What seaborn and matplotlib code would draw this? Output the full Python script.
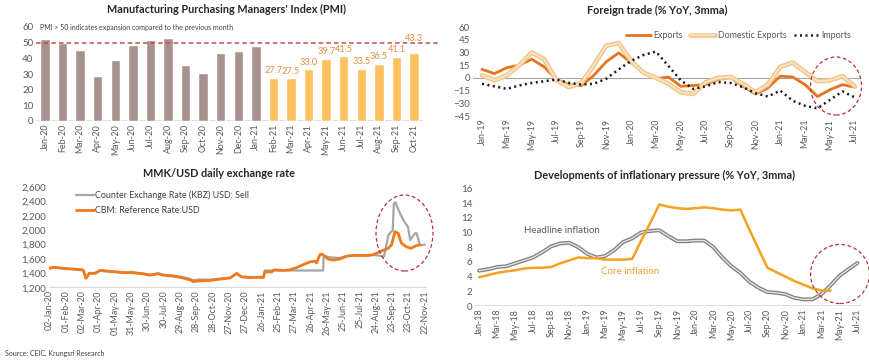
import matplotlib
matplotlib.use("Agg")
import matplotlib.pyplot as plt
import matplotlib.patheffects as pe
from matplotlib.patches import Ellipse
import numpy as np
import pandas as pd
import seaborn as sns

sns.set_theme(style="white")
plt.rcParams["font.family"] = ["Lato", "DejaVu Sans"]

# ---------------- data ----------------
# PMI (monthly)
pmi_months = ["Jan-20", "Feb-20", "Mar-20", "Apr-20", "May-20", "Jun-20", "Jul-20", "Aug-20",
              "Sep-20", "Oct-20", "Nov-20", "Dec-20", "Jan-21", "Feb-21", "Mar-21", "Apr-21",
              "May-21", "Jun-21", "Jul-21", "Aug-21", "Sep-21", "Oct-21"]
pmi_values = [52.6, 49.8, 45.1, 28.7, 38.7, 48.3, 51.5, 53.0, 35.7, 30.6, 43.2, 44.7, 47.7,
              27.7, 27.5, 33.0, 39.7, 41.5, 33.5, 36.5, 41.1, 43.3]
pmi_period = ["pre"] * 13 + ["post"] * 9

# Foreign trade (% YoY, 3mma), Jan-19 .. Jul-21
trade_months = pd.date_range("2019-01-01", periods=31, freq="MS").strftime("%b-%y")
exports = [10, 5, 12, 15, 22, 13, -2, -8, -9, 3, 19, 29.5, 18, 7, -1, 1, -10, -9, -8, -2,
           0.5, -10, -19, -12, 2, 1, -8, -22, -14, -8, -11]
domestic_exports = [3, -3, 3, 15, 30, 22, -3, -11, -6, 15, 38, 41, 20, 6, 0, -7, -17, -19, -5,
                    0, 1, -7, -17, -8, 13, 18, 7, -4, -3, 2, -10]
imports = [-7, -10, -13, -9, -6, -4, -2, -6, -8, -7, -1, 10, 20, 27, 31, 14, -3, -13, -10, -5,
           -6, -11, -18, -22, -15, -27, -33, -36, -26, -16, -23]

# MMK/USD daily exchange rate
cbm_dates = ["2020-01-02", "2020-01-09", "2020-01-19", "2020-02-03", "2020-02-21", "2020-03-04",
             "2020-03-09", "2020-03-15", "2020-03-26", "2020-04-04", "2020-04-16", "2020-05-02",
             "2020-05-17", "2020-06-01", "2020-06-20", "2020-07-05", "2020-07-20", "2020-07-29",
             "2020-08-17", "2020-09-01", "2020-09-16", "2020-09-22", "2020-10-05", "2020-10-23",
             "2020-11-10", "2020-11-29", "2020-12-11", "2020-12-20", "2021-01-04", "2021-01-23",
             "2021-01-29", "2021-02-01", "2021-02-13", "2021-02-19", "2021-03-07", "2021-03-19",
             "2021-03-31", "2021-04-12", "2021-04-25", "2021-05-04", "2021-05-07", "2021-05-13",
             "2021-05-16", "2021-05-22", "2021-05-28", "2021-06-06", "2021-06-19", "2021-07-01",
             "2021-07-13", "2021-07-26", "2021-08-07", "2021-08-19", "2021-08-31", "2021-09-09",
             "2021-09-16", "2021-09-22", "2021-09-28", "2021-10-04", "2021-10-10", "2021-10-19",
             "2021-10-28", "2021-11-04", "2021-11-13"]
cbm_rate = [1470, 1485, 1475, 1465, 1455, 1445, 1330, 1400, 1400, 1440, 1430, 1420, 1410, 1410,
            1395, 1375, 1395, 1375, 1360, 1340, 1310, 1285, 1295, 1300, 1320, 1335, 1400, 1350,
            1340, 1345, 1340, 1420, 1420, 1450, 1440, 1450, 1480, 1520, 1560, 1570, 1545, 1660,
            1670, 1640, 1600, 1585, 1600, 1640, 1650, 1650, 1650, 1660, 1700, 1730, 1750, 1800,
            1980, 1960, 1820, 1770, 1750, 1780, 1800]

kbz_dates = ["2020-01-02", "2020-01-09", "2020-01-19", "2020-02-03", "2020-02-21", "2020-03-04",
             "2020-03-09", "2020-03-15", "2020-03-26", "2020-04-04", "2020-04-16", "2020-05-02",
             "2020-05-17", "2020-06-01", "2020-06-20", "2020-07-05", "2020-07-20", "2020-07-29",
             "2020-08-17", "2020-09-01", "2020-09-16", "2020-09-22", "2020-10-05", "2020-10-23",
             "2020-11-10", "2020-11-29", "2020-12-11", "2020-12-20", "2021-01-04", "2021-01-23",
             "2021-01-29", "2021-02-01", "2021-05-19", "2021-05-20", "2021-05-28", "2021-06-06",
             "2021-06-19", "2021-07-01", "2021-07-13", "2021-07-26", "2021-08-07", "2021-08-19",
             "2021-08-28", "2021-09-08", "2021-09-16", "2021-09-21", "2021-09-24", "2021-09-26",
             "2021-09-29", "2021-10-02", "2021-10-05", "2021-10-09", "2021-10-14", "2021-10-17",
             "2021-10-22", "2021-10-26", "2021-11-04", "2021-11-07", "2021-11-13", "2021-11-22"]
kbz_rate = [1475, 1488, 1478, 1468, 1458, 1448, 1335, 1405, 1405, 1445, 1435, 1425, 1415, 1415,
            1400, 1380, 1398, 1380, 1368, 1350, 1325, 1305, 1315, 1312, 1325, 1340, 1395, 1355,
            1350, 1350, 1350, 1440, 1440, 1645, 1630, 1620, 1615, 1640, 1650, 1650, 1650, 1655,
            1650, 1635, 1930, 1980, 2000, 2375, 2390, 2330, 2280, 2210, 2140, 2100, 2050, 1865,
            1960, 1960, 1790, 1800]

# Inflation (% YoY, 3mma), Jan-18 .. Jul-21
infl_months = pd.date_range("2018-01-01", periods=43, freq="MS").strftime("%b-%y")
headline = [4.8, 5.0, 5.3, 5.4, 5.8, 6.2, 6.6, 7.3, 8.1, 8.5, 8.6, 8.0, 7.1, 6.6, 6.8, 7.6, 8.7,
            9.2, 10.0, 10.2, 10.3, 9.5, 8.8, 8.8, 8.9, 8.9, 8.0, 6.6, 5.4, 4.5, 3.3, 2.5, 1.9, 1.8,
            1.6, 1.1, 0.9, 0.9, 1.6, 2.8, 4.1, 5.0, 5.85]
core = [3.9, 4.2, 4.5, 4.7, 4.85, 5.1, 5.2, 5.2, 5.3, 5.8, 6.2, 6.6, 6.5, 6.5, 6.3, 6.3, 6.3,
        6.4, 8.9, 11.3, 13.8, 13.5, 13.3, 13.2, 13.3, 13.4, 13.3, 13.1, 13.0, 13.1, 10.4, 7.8,
        5.2, 4.6, 4.0, 3.4, 2.9, 2.4, 2.1, 2.1]

# ---------------- styling ----------------
TICK = "#595959"
TITLE = "#262626"
RED = "#B8323C"
W, H = 870, 362

fig = plt.figure(figsize=(8.7, 3.62), dpi=100)


def px_axes(x0, y0, x1, y1):
    return fig.add_axes([x0 / W, 1 - y1 / H, (x1 - x0) / W, (y1 - y0) / H])


def clean(ax, xfs=6.4, yfs=7):
    for s in ax.spines.values():
        s.set_visible(False)
    ax.tick_params(length=0, pad=2, colors=TICK)
    ax.tick_params(axis="x", labelsize=xfs, rotation=90)
    ax.tick_params(axis="y", labelsize=yfs)
    ax.set_xlabel("")
    ax.set_ylabel("")


def circle(cx, cy, w, h):
    fig.add_artist(Ellipse((cx / W, 1 - cy / H), w / W, h / H, transform=fig.transFigure,
                           fill=False, ec=RED, ls=(0, (3, 2)), lw=0.9))


# ---- PMI ----
ax1 = px_axes(36.2, 27, 422.8, 121)
sns.barplot(x=pmi_months, y=pmi_values, hue=pmi_period, dodge=False, width=0.53, saturation=1,
            palette={"pre": "#A8928F", "post": "#FDC160"}, legend=False, ax=ax1)
ax1.axhline(0, color="#D9D9D9", lw=1.2, zorder=0)
ax1.axhline(50, color="#C0504D", ls=(0, (3, 2)), lw=1.1, xmax=1.04, clip_on=False)
for i, (v, p) in enumerate(zip(pmi_values, pmi_period)):
    if p == "post":
        off = 6.5 if i == len(pmi_values) - 1 else 1.5
        ax1.text(i, v + off, f"{v:.1f}", ha="center", va="bottom", fontsize=6.6, color="#E58A3E")
ax1.text(0.01, 59.5, "PMI > 50 indicates expansion compared to the previous month",
         transform=ax1.get_yaxis_transform(), fontsize=5, color="#404040", va="center")
ax1.set_ylim(0, 60)
ax1.set_xlim(-0.5, len(pmi_months) - 0.5)
ax1.set_yticks(range(0, 61, 10))
clean(ax1)

# ---- Foreign trade ----
ax2 = px_axes(472.7, 27, 861, 116)
pos = np.arange(len(trade_months))
ax2.axhline(0, color="#A6A6A6", lw=0.8, zorder=0)
sns.lineplot(x=pos, y=exports, color="#E8731F", lw=2, label="Exports", ax=ax2)
sns.lineplot(x=pos, y=domestic_exports, color="#FBE6C6", lw=1.2, label="Domestic Exports",
             path_effects=[pe.Stroke(linewidth=3.4, foreground="#F0C78C"), pe.Normal()], ax=ax2)
sns.lineplot(x=pos, y=imports, color="#1A1A1A", lw=1.8, ls=(0, (0.8, 1.4)), label="Imports", ax=ax2)
ax2.set_ylim(-45, 60)
ax2.set_xlim(-0.75, len(pos) - 0.5)
ax2.set_yticks(range(-45, 61, 15))
ax2.set_xticks(pos[::2])
ax2.set_xticklabels(trade_months[::2])
ax2.legend(loc="upper right", bbox_to_anchor=(0.995, 1.04), ncol=3, frameon=False, fontsize=6.4,
           handlelength=2.8, handletextpad=0.25, columnspacing=0.9, labelcolor=TICK)
clean(ax2)

# ---- Exchange rate ----
ax3 = px_axes(49, 187.3, 427, 287.7)
start = pd.Timestamp("2020-01-02")
sns.lineplot(x=pd.to_datetime(kbz_dates), y=kbz_rate, color="#A6A6A6", lw=1.6,
             label="Counter Exchange Rate (KBZ) USD: Sell", ax=ax3)
sns.lineplot(x=pd.to_datetime(cbm_dates), y=cbm_rate, color="#EE7A1E", lw=2,
             label="CBM: Reference Rate:USD", ax=ax3)
ax3.axhline(1200, color="#D9D9D9", lw=2.2, zorder=0)
ticks = pd.date_range(start, periods=24, freq="30D")
ax3.set_xticks(ticks)
ax3.set_xticklabels(ticks.strftime("%d-%b-%y"))
ax3.set_xlim(start - pd.Timedelta(days=1), start + pd.Timedelta(days=694))
ax3.set_ylim(1200, 2600)
ax3.set_yticks(range(1200, 2601, 200))
ax3.set_yticklabels([f"{v:,}" for v in range(1200, 2601, 200)])
ax3.legend(loc="upper left", bbox_to_anchor=(0.05, 1.05), frameon=False, fontsize=6.4,
           handlelength=2.0, handletextpad=0.1, labelspacing=0.75, labelcolor="#404040")
clean(ax3)

# ---- Inflation ----
ax4 = px_axes(475, 188.3, 862, 306)
ipos = np.arange(len(infl_months))
ax4.axhline(0, color="#D9D9D9", lw=1.2, zorder=0)
sns.lineplot(x=ipos, y=headline, color="#E3E3E3", lw=1.0,
             path_effects=[pe.Stroke(linewidth=2.8, foreground="#7F7F7F"), pe.Normal()], ax=ax4)
sns.lineplot(x=ipos[:len(core)], y=core, color="#F4A21F", lw=1.8, ax=ax4)
ax4.text(9.2, 10.2, "Headline inflation", fontsize=7, color="#595959", ha="center", va="center")
ax4.text(16.8, 4.75, "Core inflation", fontsize=7, color="#F0A030", ha="center", va="center")
ax4.set_ylim(0, 16)
ax4.set_xlim(-0.45, len(ipos) - 0.5)
ax4.set_yticks(range(0, 17, 2))
ax4.set_xticks(ipos[::2])
ax4.set_xticklabels(infl_months[::2])
clean(ax4)

# ---- titles, circles, source ----
fig.text(227 / W, 1 - 9 / H, "Manufacturing Purchasing Managers' Index (PMI)", ha="center",
         va="center", fontsize=7.8, fontweight="bold", color=TITLE)
fig.text(657 / W, 1 - 10 / H, "Foreign trade (% YoY, 3mma)", ha="center", va="center",
         fontsize=7.8, fontweight="bold", color=TITLE)
fig.text(219 / W, 1 - 173 / H, "MMK/USD daily exchange rate", ha="center", va="center",
         fontsize=7.8, fontweight="bold", color=TITLE)
fig.text(664 / W, 1 - 175 / H, "Developments of inflationary pressure (% YoY, 3mma)", ha="center",
         va="center", fontsize=7.8, fontweight="bold", color=TITLE)
fig.text(5 / W, 1 - 353 / H, "Source: CEIC, Krungsri Research", fontsize=5, color="#404040",
         va="center")

circle(836, 86, 51, 58)
circle(404.5, 233, 57, 76)
circle(840, 274, 59, 59)

fig.savefig("out.png", dpi=100)
